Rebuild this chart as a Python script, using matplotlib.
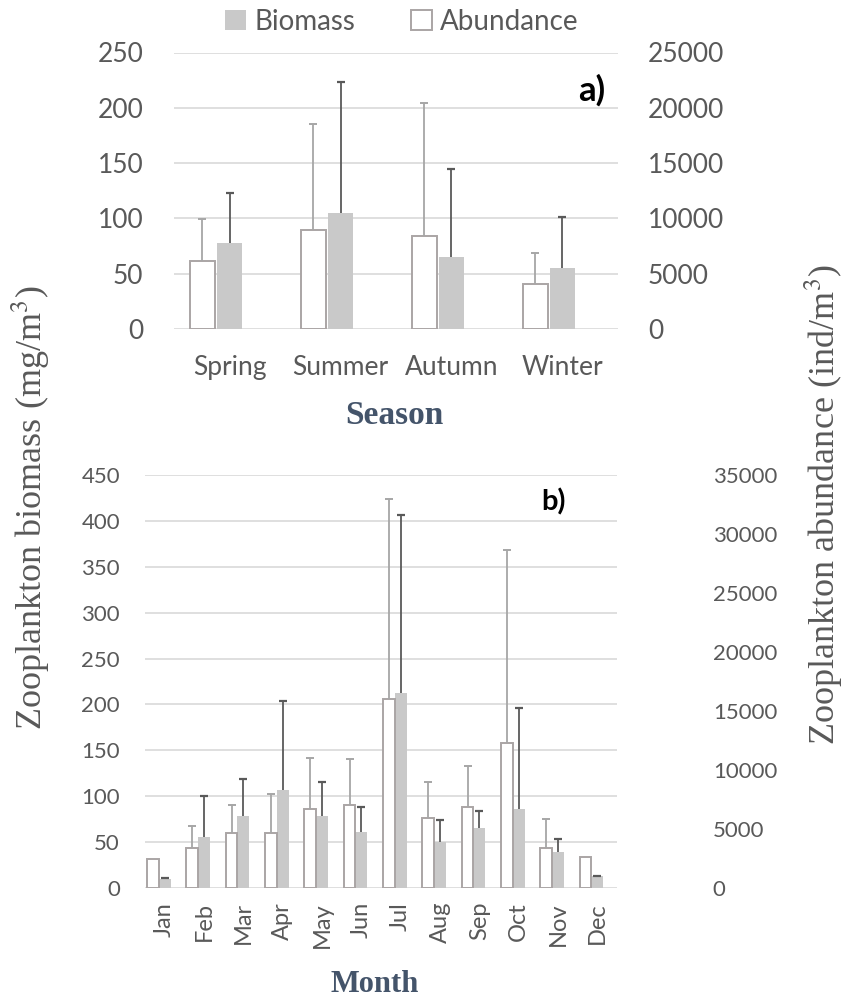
import numpy as np
import matplotlib
matplotlib.use("Agg")
import matplotlib.pyplot as plt
from matplotlib.patches import Patch

# ---- data ----
seasons = ["Spring", "Summer", "Autumn", "Winter"]
season_biomass = [77.5, 104.6, 64.8, 55.5]
season_biomass_sd = [45.2, 118.4, 79.9, 46.1]
season_abundance = [6180, 8920, 8440, 4070]
season_abundance_sd = [3740, 9580, 11960, 2800]

months = ["Jan", "Feb", "Mar", "Apr", "May", "Jun",
          "Jul", "Aug", "Sep", "Oct", "Nov", "Dec"]
month_biomass = [9.8, 55.6, 78.4, 106.8, 78.1, 60.6, 212.8, 49.8, 65.4, 85.7, 38.9, 13.1]
month_biomass_sd = [0.8, 44.6, 40.7, 96.9, 37.0, 28.0, 194.0, 24.7, 18.9, 110.8, 14.9, 0.5]
month_abundance = [2430, 3360, 4630, 4690, 6700, 7060, 15990, 5930, 6890, 12320, 3390, 2600]
month_abundance_sd = [0, 1920, 2430, 3250, 4350, 3900, 17010, 3020, 3450, 16300, 2490, 0]

# ---- style ----
TICK_C = "#595959"
GRID_C = "#d9d9d9"
FILL_C = "#c9c9c9"
EDGE_C = "#aaa5a5"
ERR_OPEN = "#a6a6a6"
ERR_FILL = "#595959"
TITLE_C = "#44546a"
SANS = ["Lato", "DejaVu Sans"]
SERIF = ["Liberation Serif", "DejaVu Serif"]
plt.rcParams["mathtext.fontset"] = "stix"

fig = plt.figure(figsize=(8.45, 9.99), dpi=100)


def upper_errorbar(a, x, y, sd, color, capthick):
    """Draw only the upper half of each error bar."""
    x = np.asarray(x, dtype=float)
    y = np.asarray(y, dtype=float)
    sd = np.asarray(sd, dtype=float)
    eb = a.errorbar(x, y, yerr=[np.zeros_like(sd), sd], fmt="none",
                    ecolor=color, elinewidth=1.3, capsize=3,
                    capthick=capthick, zorder=3)
    caps = eb[1]
    if len(caps) == 2:
        caps[0].set_visible(False)


def panel(rect, cats, bio, bio_sd, abu, abu_sd, ymax_b, step_b, ymax_a, step_a,
          width, offset, tick_fs, xtick_fs, rot, pads, xpad,
          label_txt, label_xy, label_fs):
    ax = fig.add_axes(rect)
    ax2 = ax.twinx()
    x = np.arange(len(cats))

    # biomass (filled) on the left axis
    ax.bar(x, bio, width=width, color=FILL_C, edgecolor="none", zorder=2)
    upper_errorbar(ax, x, bio, bio_sd, ERR_FILL, 1.6)

    # abundance (open) on the right axis
    ax2.bar(x + offset, abu, width=width, facecolor="white", edgecolor=EDGE_C,
            linewidth=1.4, zorder=2)
    sd = np.array(abu_sd, dtype=float)
    has = sd > 0
    upper_errorbar(ax2, (x + offset)[has], np.array(abu)[has], sd[has], ERR_OPEN, 1.4)

    for a, top, step in ((ax, ymax_b, step_b), (ax2, ymax_a, step_a)):
        a.set_ylim(0, top)
        a.set_yticks(np.arange(0, top + step / 2, step))
        for s in a.spines.values():
            s.set_visible(False)
        a.tick_params(axis="both", length=0, colors=TICK_C, labelsize=tick_fs)
        for t in a.get_yticklabels():
            t.set_fontfamily(SANS)
    ax.tick_params(axis="y", pad=pads[0])
    ax2.tick_params(axis="y", pad=pads[1])
    ax.tick_params(axis="x", pad=xpad)
    ax.set_xlim(-0.5, len(cats) - 0.5)
    ax.set_xticks(x)
    ax.set_xticklabels(cats, rotation=rot, fontfamily=SANS, fontsize=xtick_fs)
    ax.yaxis.grid(True, color=GRID_C, linewidth=1.2, zorder=0)
    ax.set_axisbelow(True)
    ax.text(label_xy[0], label_xy[1], label_txt, transform=ax.transAxes,
            fontsize=label_fs, fontweight="bold", fontfamily=SANS, color="black",
            ha="left", va="center")
    return ax, ax2


# a) seasonal means
ax_a, ax_a2 = panel([174 / 845, 1 - 329 / 999, 444 / 845, 276.5 / 999],
                    seasons, season_biomass, season_biomass_sd,
                    season_abundance, season_abundance_sd,
                    250, 50, 25000, 5000, 0.23, -0.245, 19, 19, 0,
                    (22, 21.5), 19, "a)", (0.91, 0.865), 25)

# b) monthly means
ax_b, ax_b2 = panel([145 / 845, 1 - 888 / 999, 472 / 845, 413 / 999],
                    months, month_biomass, month_biomass_sd,
                    month_abundance, month_abundance_sd,
                    450, 50, 35000, 5000, 0.30, -0.30, 16, 17, 90,
                    (18, 69), 10, "b)", (0.84, 0.935), 21)

# axis titles
fig.text(394 / 845, 1 - 416 / 999, "Season", fontsize=24, fontweight="bold",
         fontfamily=SERIF, color=TITLE_C, ha="center", va="center")
fig.text(375 / 845, 1 - 985 / 999, "Month", fontsize=22, fontweight="bold",
         fontfamily=SERIF, color=TITLE_C, ha="center", va="center")
fig.text(31 / 845, 1 - 508 / 999, "Zooplankton biomass (mg/m$^3$)", rotation=90,
         fontsize=26, fontfamily=SERIF, color=TICK_C, ha="center", va="center")
fig.text(824 / 845, 1 - 505 / 999, "Zooplankton abundance (ind/m$^3$)", rotation=90,
         fontsize=26, fontfamily=SERIF, color=TICK_C, ha="center", va="center")

# legend
handles = [Patch(facecolor=FILL_C, edgecolor="none", label="Biomass"),
           Patch(facecolor="white", edgecolor=EDGE_C, linewidth=1.4, label="Abundance")]
fig.legend(handles=handles, loc="center", bbox_to_anchor=(402 / 845, 1 - 22 / 999),
           ncol=2, frameon=False, prop={"family": SANS, "size": 20},
           labelcolor=TICK_C, handlelength=0.75, handleheight=0.75,
           handletextpad=0.3, columnspacing=2.0)

fig.savefig("out.png", dpi=100)
